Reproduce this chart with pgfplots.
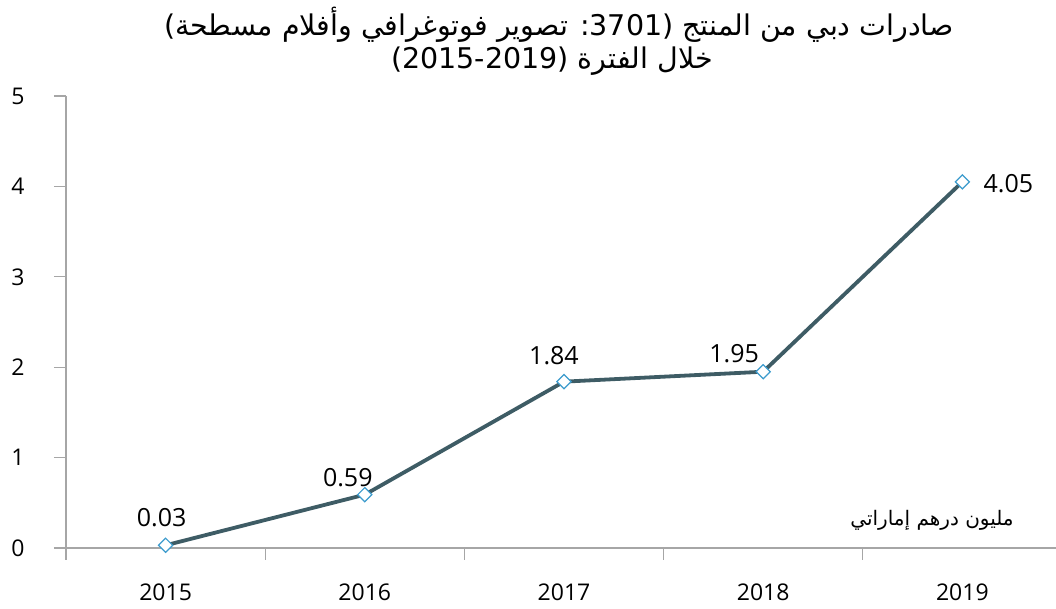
\documentclass[border=0pt]{standalone}
\usepackage{pgfplots}
\pgfplotsset{compat=1.18}
\usepackage{pgfplotstable}
\usepackage{fontspec}
\setmainfont{Open Sans}
\newfontfamily\arabicfont[Script=Arabic]{DejaVu Sans}
\TeXXeTstate=1
\definecolor{linec}{RGB}{62,92,101}
\definecolor{markc}{RGB}{60,155,205}
\definecolor{axisg}{RGB}{166,166,166}
\pgfplotstableread{
x y dx dy
0 0.03 -4 28
1 0.59 -17 17
2 1.84 -10 26
3 1.95 -29 18
4 4.05 46 -2
}\datatable
\begin{document}
\begin{tikzpicture}
\useasboundingbox (0,0) rectangle (1056bp,609bp);
\begin{axis}[
  at={(66bp,61bp)}, anchor=south west,
  scale only axis, width=990bp, height=452bp,
  xmin=-0.5, xmax=4.47, ymin=0, ymax=5,
  axis x line=bottom, axis y line=left,
  axis line style={axisg, line width=1.2bp, -},
  /pgf/number format/assume math mode=true,
  tick label style={font=\fontsize{23bp}{27bp}\selectfont, text=black},
  major tick length=12bp, tick align=outside,
  tick style={axisg, line width=1.2bp},
  ytick={0,...,5},
  yticklabel style={xshift=-26bp},
  xtick={0,...,4}, xticklabels={2015,2016,2017,2018,2019},
  xtick style={draw=none},
  xticklabel style={yshift=-20bp},
  extra x ticks={-0.5,0.5,1.5,2.5,3.5},
  extra x tick labels={},
  extra x tick style={xtick style={draw=axisg, line width=1.2bp}},
  clip=false,
]
\addplot[linec, line width=3.8bp,
  mark=square*, mark size=5bp,
  mark options={fill=white, draw=markc, line width=1.2bp, rotate=45},
  visualization depends on={\thisrow{dx} \as \dx},
  visualization depends on={\thisrow{dy} \as \dy},
  nodes near coords,
  point meta=explicit symbolic,
  every node near coord/.append style={anchor=center, xshift=\dx bp, yshift=\dy bp,
     font=\fontsize{25bp}{29bp}\selectfont, text=black},
] table[x=x, y=y, meta=y] {\datatable};
\end{axis}
\node[font=\arabicfont\fontsize{28.5bp}{32bp}\selectfont] at (559bp,584bp)
  {\beginR صادرات دبي من المنتج (\beginL 3701\endL: تصوير فوتوغرافي وأفلام مسطحة)\endR};
\node[font=\arabicfont\fontsize{28.5bp}{32bp}\selectfont] at (552bp,548bp)
  {\beginR خلال الفترة (\beginL 2015-2019\endL)\endR};
\node[font=\arabicfont\fontsize{20bp}{24bp}\selectfont] at (932bp,89bp)
  {\beginR مليون درهم إماراتي\endR};
\end{tikzpicture}
\end{document}
